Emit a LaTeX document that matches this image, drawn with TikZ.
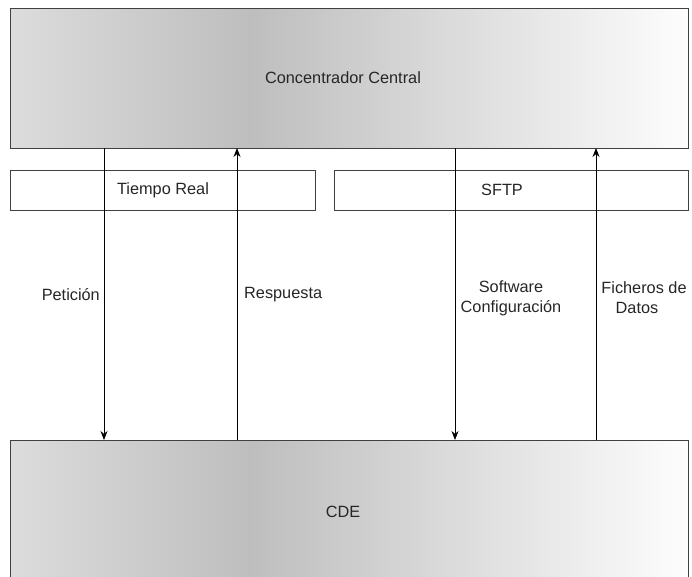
\documentclass[tikz,border=0pt]{standalone}
\usepackage{fontspec}
\setmainfont{Liberation Sans}
\usetikzlibrary{arrows.meta}
\definecolor{gA}{HTML}{DCDCDC}
\definecolor{gB}{HTML}{BEBEBE}
\definecolor{gC}{HTML}{FDFDFD}
\definecolor{edge}{HTML}{404040}
\pgfdeclarehorizontalshading{grayband}{100bp}{color(0bp)=(gA); color(25bp)=(gA); color(42.7bp)=(gB); color(75bp)=(gC); color(100bp)=(gC)}
\tikzset{
  bigbox/.style={draw=edge, line width=0.8pt, shading=grayband, anchor=north west, inner sep=0pt},
  protobox/.style={draw=edge, line width=0.8pt, fill=white, anchor=north west, inner sep=0pt},
  lbl/.style={font=\fontsize{16.3}{20}\selectfont, text=black!85},
  conn/.style={line width=0.8pt, -{Stealth[length=9pt,width=7pt]}},
}
\begin{document}
\begin{tikzpicture}[x=1pt,y=-1pt]
\useasboundingbox (0,0) rectangle (692,577);
\node[bigbox, minimum width=678pt, minimum height=140pt] (cc) at (10,8) {};
\node[lbl] (cct) at (343,78) {Concentrador Central};
\node[bigbox, minimum width=678pt, minimum height=150pt] (cde) at (10,440) {};
\node[lbl] (cdet) at (343,512) {CDE};
\node[protobox, minimum width=305pt, minimum height=40pt] (tr) at (10,170) {};
\node[lbl] (trt) at (163,190) {Tiempo Real};
\node[protobox, minimum width=354pt, minimum height=40pt] (sf) at (334,170) {};
\node[lbl] (sft) at (502,190) {SFTP};
\coordinate (a1t) at (104,148); \coordinate (a1b) at (104,440);
\coordinate (a2t) at (237,148); \coordinate (a2b) at (237,440);
\coordinate (a3t) at (455,148); \coordinate (a3b) at (455,440);
\coordinate (a4t) at (596,148); \coordinate (a4b) at (596,440);
\draw[conn] (a1t) -- (a1b);
\draw[conn] (a2b) -- (a2t);
\draw[conn] (a3t) -- (a3b);
\draw[conn] (a4b) -- (a4t);
\node[lbl, anchor=east, inner sep=1pt] (l1) at (101,295) {Petición};
\node[lbl, anchor=west, inner sep=1pt] (l2) at (243,295) {Respuesta};
\node[lbl, align=center] (l3) at (511,298) {Software\\Configuración};
\node[lbl, align=center] (l4) at (637,298) {\hspace*{14pt}Ficheros de\\Datos};
\end{tikzpicture}
\end{document}
